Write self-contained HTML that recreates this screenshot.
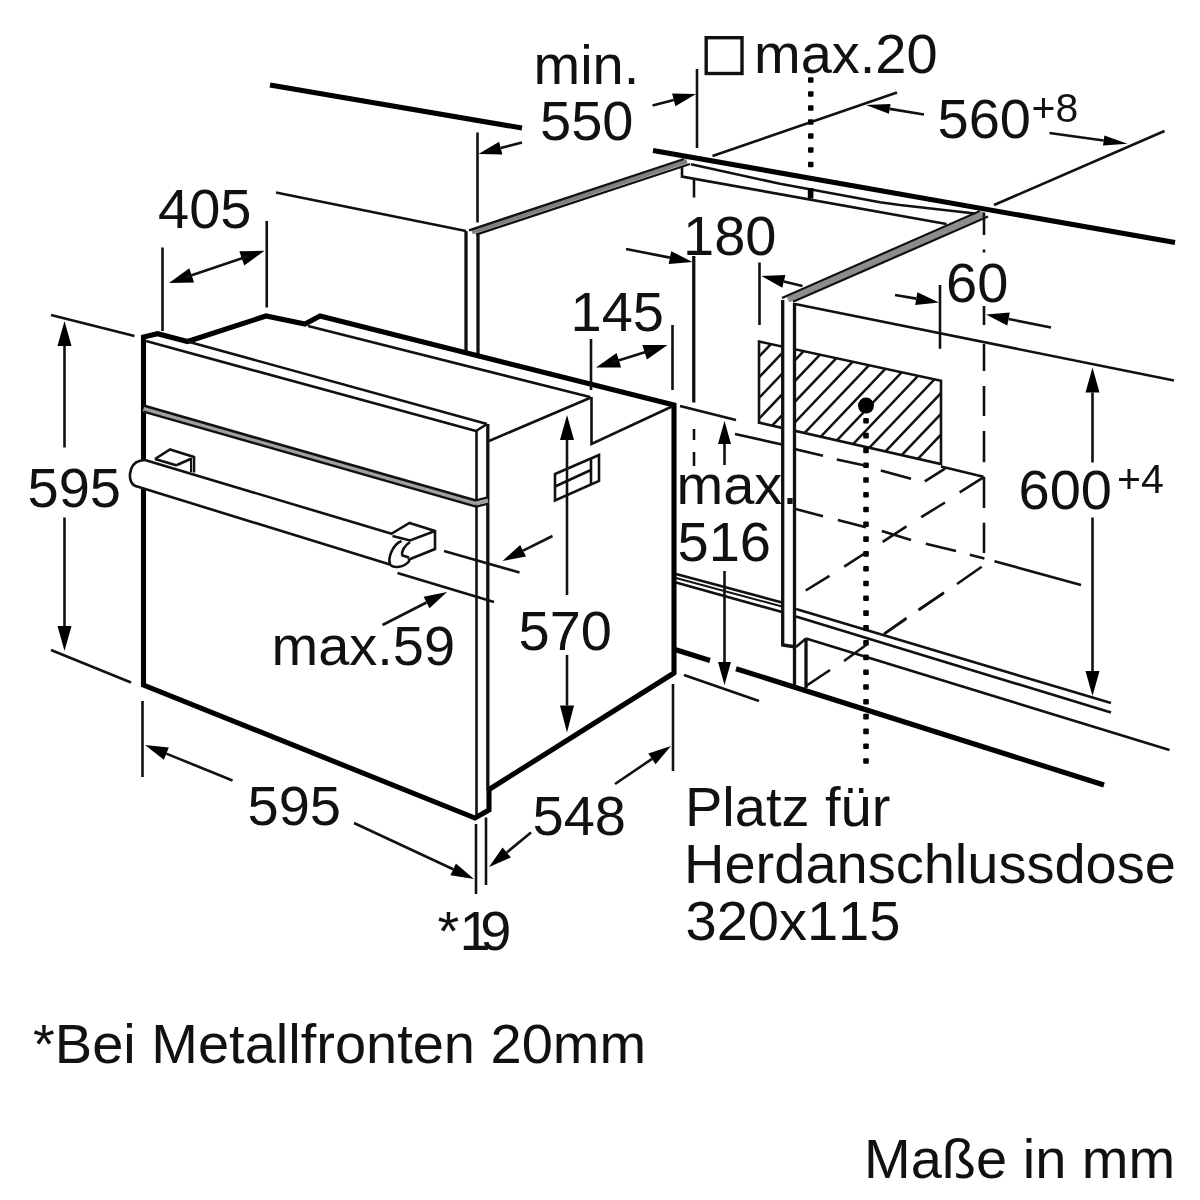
<!DOCTYPE html>
<html><head><meta charset="utf-8">
<style>
html,body{margin:0;padding:0;background:#fff;}
body{width:1200px;height:1200px;overflow:hidden;font-family:"Liberation Sans",sans-serif;}
svg{display:block;filter:blur(0.55px);}
text{font-family:"Liberation Sans",sans-serif;font-size:56px;fill:#111;font-kerning:none;font-variant-ligatures:none;}
.s{font-size:41px;}
.k{stroke:#000;stroke-width:5.1;fill:none;stroke-linecap:butt;stroke-linejoin:miter;}
.m{stroke:#111;stroke-width:3.3;fill:none;}
.t{stroke:#111;stroke-width:2.6;fill:none;}
.h{stroke:#111;stroke-width:2;fill:none;}
.a{fill:#000;stroke:none;}
</style></head><body>
<svg width="1200" height="1200" viewBox="0 0 1200 1200">
<rect width="1200" height="1200" fill="#fff"/>
<defs>
<clipPath id="hc"><polygon points="759,341.5 941,380.7 941,464 759,422.6"/></clipPath>
</defs>

<!-- ===== HATCH ===== -->
<g id="hatch">
<g clip-path="url(#hc)" class="t" style="stroke-width:2.5">
<line x1="511.0" y1="492.9" x2="831.0" y2="156.9"/>
<line x1="527.5" y1="496.3" x2="847.5" y2="160.3"/>
<line x1="544.0" y1="499.6" x2="864.0" y2="163.6"/>
<line x1="560.5" y1="503.0" x2="880.5" y2="167.0"/>
<line x1="577.0" y1="506.4" x2="897.0" y2="170.4"/>
<line x1="593.5" y1="509.7" x2="913.5" y2="173.7"/>
<line x1="610.0" y1="513.1" x2="930.0" y2="177.1"/>
<line x1="626.5" y1="516.5" x2="946.5" y2="180.5"/>
<line x1="643.0" y1="519.8" x2="963.0" y2="183.8"/>
<line x1="659.5" y1="523.2" x2="979.5" y2="187.2"/>
<line x1="676.0" y1="526.6" x2="996.0" y2="190.6"/>
<line x1="692.5" y1="529.9" x2="1012.5" y2="193.9"/>
<line x1="709.0" y1="533.3" x2="1029.0" y2="197.3"/>
<line x1="725.5" y1="536.7" x2="1045.5" y2="200.7"/>
<line x1="742.0" y1="540.0" x2="1062.0" y2="204.0"/>
<line x1="758.5" y1="543.4" x2="1078.5" y2="207.4"/>
<line x1="775.0" y1="546.8" x2="1095.0" y2="210.8"/>
<line x1="791.5" y1="550.1" x2="1111.5" y2="214.1"/>
<line x1="808.0" y1="553.5" x2="1128.0" y2="217.5"/>
<line x1="824.5" y1="556.9" x2="1144.5" y2="220.9"/>
</g>
<polygon points="759,341.5 941,380.7 941,464 759,422.6" class="t" style="stroke-width:2.6"/>
</g>

<!-- ===== CARCASS / WORKTOP ===== -->
<g id="carcass">

<!-- thick top-left wall line -->
<line class="k" x1="270" y1="85" x2="522" y2="128"/>
<!-- thin line to left post top -->
<line class="t" x1="276" y1="192.5" x2="466" y2="231"/>
<!-- left post -->
<line class="m" x1="466" y1="231" x2="466" y2="352"/>
<line class="m" x1="478" y1="234" x2="478" y2="355"/>
<!-- left panel top triple line -->
<line stroke="#808080" stroke-width="4.5" x1="472" y1="232.2" x2="687" y2="161.2"/>
<line class="h" style="stroke-width:2.3" x1="469" y1="230.3" x2="684" y2="159"/>
<line class="h" style="stroke-width:2.3" x1="476" y1="234.6" x2="690" y2="164"/>
<!-- worktop front edge thick -->
<line class="k" x1="653" y1="150.5" x2="1175" y2="242.6"/>
<!-- strip under worktop -->
<path class="t" d="M691,164.3 L780,183.8 L880,202.2 L900,205 L975,213.5"/>
<path class="t" d="M682,166 L682,176.6 L946.5,224"/>
<rect x="807.8" y="188" width="5.6" height="10.5" fill="#000"/>
<!-- right panel top triple line -->
<line stroke="#8c8c8c" stroke-width="6" x1="788" y1="299.8" x2="984" y2="213.8"/>
<line class="h" style="stroke-width:2.3" x1="782" y1="298" x2="980" y2="211"/>
<line class="h" style="stroke-width:2.3" x1="793" y1="301.8" x2="988" y2="216.5"/>
<!-- right post (white fill to hide hatch) -->
<path d="M783,300 L783,645 L796,647 L796,304 Z" fill="#fff" stroke="none"/>
<path class="m" d="M782.7,300 L782.7,645 L796,647"/>
<path class="m" d="M794.5,303 L794.5,687"/>
<path class="t" d="M796,647 L806,638.5"/>
<line class="m" x1="806" y1="638.5" x2="806" y2="688"/>
<!-- carcass inner top edge -->
<line class="t" x1="795" y1="304" x2="1174" y2="380.5"/>
<!-- floor double lines left of post -->
<line class="t" x1="676" y1="574" x2="782" y2="602.5"/>
<line class="h" x1="676" y1="578" x2="782" y2="606.5"/>
<line class="t" x1="676" y1="582.5" x2="782" y2="612"/>
<!-- floor double lines right of post -->
<line class="t" x1="796" y1="609" x2="1111" y2="703"/>
<line class="t" x1="796" y1="616.5" x2="1111" y2="712.5"/>
<line class="t" x1="806" y1="638.5" x2="1169.5" y2="750"/>
<!-- floor thick front edge -->
<line class="k" x1="675" y1="649.5" x2="710" y2="660.5"/>
<line class="k" x1="736" y1="668.7" x2="1104" y2="785"/>

</g>

<!-- ===== OVEN ===== -->
<g id="oven">

<!-- white fill for oven silhouette to hide carcass left post etc -->
<path d="M143.5,338 L157.5,334 L187.5,341.5 L266,316 L305,324 L320,316 L674,405 L674,672 L489,789 L489,810 L475,818 L143.5,685 Z" fill="#fff" stroke="none"/>
<!-- thick silhouette -->
<path class="k" d="M143.5,461 L143.5,337 L157.5,333.7 L187.5,341.5 L266,316 L305,324 L320,316 L674,405 L674,673 L489,789.5 L489,810 L475,818 L143.5,685 L143.5,488"/>
<!-- body top thin line -->
<line class="t" x1="308" y1="326" x2="590" y2="397"/>
<!-- front panel top edges -->
<line class="t" x1="187.5" y1="341.5" x2="487" y2="424"/>
<line class="t" x1="146" y1="341" x2="476" y2="431"/>
<!-- panel right end -->
<path class="t" d="M487,424 L476,431"/>
<line class="t" x1="476.5" y1="431" x2="476.5" y2="815"/>
<line class="m" x1="487.8" y1="424" x2="487.8" y2="790"/>
<!-- side top edge -->
<line class="t" x1="489" y1="441" x2="591" y2="397.5"/>
<!-- notch -->
<path class="t" d="M591.5,397 L591.5,444 L672,406.5"/>
<!-- panel separator -->
<line stroke="#a0a0a0" stroke-width="6" x1="143.5" y1="408.6" x2="476" y2="503.6"/>
<line class="t" style="stroke-width:2.6" x1="143.5" y1="405.6" x2="476" y2="500.6"/>
<line class="t" style="stroke-width:2.4" x1="143.5" y1="411.6" x2="476" y2="506.6"/>
<path class="t" d="M476,500.6 L488,497.5 M476,506.6 L488,503.5"/><path stroke="#a0a0a0" stroke-width="4" fill="none" d="M476,503.6 L488,500.5"/>
<!-- socket on side -->
<path class="t" d="M555,474 L599,455 L599,481 L555,500.5 Z"/>
<path class="t" d="M555,486.5 L592,469.5 M591,458.5 L591,484"/>
<!-- handle -->
<path d="M140,461 C128,463 127,484 135,486 L390,565 L392.5,534 L154,462.5 Z" fill="#fff" stroke="none"/>
<path class="t" d="M145,460 L140,460.8 C128,464 127,483 135.5,486 L390,564.5"/>
<path class="t" d="M145,460 L392.5,534"/>
<!-- left mount -->
<path class="t" d="M155,459 L170,449.5 L194,457 L194,472.5"/>
<path class="t" d="M177,465 L191,458.8"/><path class="h" d="M191,458 L191,472"/>
<path class="t" d="M155,459 L177,465.5"/>
<!-- right mount -->
<path class="t" d="M391,534 L409.5,523 L435,531 L435,549 L409,559.5"/>
<path class="t" d="M392.5,536 L410,540.5 L435,531"/>
<!-- handle right end cap -->
<path class="t" d="M401.5,541 C392,545 388,558 390,564.5 C394,569 404,567 409,561.5 L409,558.5"/>
<path class="t" d="M410,542 C404,546 401,552 402.5,555.5 L409,557.5"/>

</g>

<!-- ===== DIMENSIONS ===== -->
<g id="dims">
<line class="t" x1="477.5" y1="132.5" x2="477.5" y2="222.5"/>
<line class="t" x1="697" y1="69" x2="697" y2="148"/>
<polygon class="a" points="478.5,154.0 502.4,154.4 499.1,141.8"/><line class="t" x1="500.7" y1="148.1" x2="522.0" y2="142.5"/>
<polygon class="a" points="696.0,94.0 672.1,93.6 675.4,106.2"/><line class="t" x1="673.8" y1="99.9" x2="652.5" y2="105.5"/>
<rect x="706.2" y="37.7" width="35.8" height="35.8" class="m" style="stroke-width:3.4"/>
<line class="t" x1="712.5" y1="156" x2="897" y2="92.5"/>
<line class="t" x1="994" y1="205" x2="1164.5" y2="131"/>
<polygon class="a" points="866.0,105.0 888.9,113.8 890.5,103.9"/><line class="t" x1="889.7" y1="108.9" x2="924.0" y2="114.5"/>
<polygon class="a" points="1127.5,143.8 1104.4,135.5 1103.0,145.4"/><line class="t" x1="1103.7" y1="140.5" x2="1049.5" y2="133.0"/>
<line class="t" x1="162.5" y1="247.5" x2="162.5" y2="331"/>
<line class="t" x1="266.75" y1="221" x2="266.75" y2="307.5"/>
<polygon class="a" points="169.0,283.0 194.1,282.4 189.3,268.2"/>
<polygon class="a" points="264.5,250.8 239.4,251.3 244.2,265.5"/>
<line class="t" x1="185" y1="277.6" x2="248" y2="256.3"/>
<line class="m" x1="693.75" y1="256" x2="693.75" y2="402.5"/>
<line class="t" x1="759.5" y1="262.5" x2="759.5" y2="325"/>
<polygon class="a" points="692.5,262.0 671.2,251.2 668.7,264.0"/><line class="t" x1="669.9" y1="257.6" x2="626.0" y2="249.0"/>
<polygon class="a" points="761.5,276.0 782.3,287.8 785.4,275.1"/><line class="t" x1="783.8" y1="281.4" x2="802.5" y2="286.0"/>
<line class="t" x1="591" y1="339" x2="591" y2="390"/>
<line class="t" x1="672.5" y1="325" x2="672.5" y2="390"/>
<polygon class="a" points="596.0,367.5 621.1,367.4 616.6,353.1"/>
<polygon class="a" points="667.5,345.0 642.4,345.1 646.9,359.4"/>
<line class="t" x1="612" y1="362.5" x2="652" y2="350"/>
<line class="t" x1="940" y1="285" x2="940" y2="348.75"/>
<polygon class="a" points="939.0,302.5 917.4,292.2 915.2,305.0"/><line class="t" x1="916.3" y1="298.6" x2="895.0" y2="295.0"/>
<polygon class="a" points="986.0,314.5 1007.3,325.4 1009.8,312.6"/><line class="t" x1="1008.6" y1="319.0" x2="1051.0" y2="327.5"/>
<line class="t" x1="51" y1="315" x2="134.5" y2="336"/>
<line class="t" x1="51" y1="650" x2="131" y2="682.5"/>
<polygon class="a" points="64.5,321.0 57.5,346.0 71.5,346.0"/><line class="t" x1="64.5" y1="346.0" x2="64.5" y2="447.5"/>
<polygon class="a" points="64.5,651.0 71.5,626.0 57.5,626.0"/><line class="t" x1="64.5" y1="626.0" x2="64.5" y2="517.5"/>
<line class="t" x1="680" y1="406" x2="736" y2="420"/>
<line class="t" x1="735" y1="434" x2="782" y2="444.5"/>
<line class="t" x1="684" y1="675" x2="759" y2="701"/>
<polygon class="a" points="724.5,421.0 718.0,444.0 731.0,444.0"/><line class="t" x1="724.5" y1="444.0" x2="724.5" y2="465.0"/>
<polygon class="a" points="724.5,685.0 731.0,662.0 718.0,662.0"/><line class="t" x1="724.5" y1="662.0" x2="724.5" y2="571.0"/>
<polygon class="a" points="1092.5,367.5 1085.5,392.5 1099.5,392.5"/><line class="t" x1="1092.5" y1="392.5" x2="1092.5" y2="462.5"/>
<polygon class="a" points="1092.5,696.0 1099.5,671.0 1085.5,671.0"/><line class="t" x1="1092.5" y1="671.0" x2="1092.5" y2="517.5"/>
<polygon class="a" points="567.0,415.0 560.0,440.0 574.0,440.0"/><line class="t" x1="567.0" y1="440.0" x2="567.0" y2="595.0"/>
<polygon class="a" points="567.0,732.5 574.0,705.5 560.0,705.5"/><line class="t" x1="567.0" y1="705.5" x2="567.0" y2="655.0"/>
<line class="t" x1="444" y1="551" x2="519.5" y2="572.5"/>
<line class="t" x1="397.5" y1="573" x2="494" y2="602"/>
<polygon class="a" points="502.5,561.0 526.0,556.5 520.2,544.9"/><line class="t" x1="523.1" y1="550.7" x2="552.5" y2="536.0"/>
<polygon class="a" points="447.0,592.0 423.6,596.7 429.5,608.3"/><line class="t" x1="426.5" y1="602.5" x2="382.5" y2="625.0"/>
<line class="t" x1="142.5" y1="701" x2="142.5" y2="777"/>
<line class="t" x1="476" y1="824" x2="476" y2="894"/>
<polygon class="a" points="145.0,745.0 163.9,759.7 168.8,747.6"/><line class="t" x1="166.3" y1="753.6" x2="232.5" y2="780.5"/>
<polygon class="a" points="474.0,879.0 455.9,863.4 450.4,875.2"/><line class="t" x1="453.2" y1="869.3" x2="354.0" y2="823.0"/>
<line class="t" x1="486" y1="817.5" x2="486" y2="885"/>
<line class="t" x1="673" y1="684" x2="673" y2="771"/>
<polygon class="a" points="489.0,867.0 510.9,857.4 502.6,847.4"/><line class="t" x1="506.8" y1="852.4" x2="531.0" y2="832.5"/>
<polygon class="a" points="671.0,746.0 648.3,753.5 655.6,764.3"/><line class="t" x1="652.0" y1="758.9" x2="615.0" y2="784.0"/>
<rect class="a" x="808.0" y="77.2" width="5.5" height="5.5" rx="1"/>
<rect class="a" x="808.0" y="91.2" width="5.5" height="5.5" rx="1"/>
<rect class="a" x="808.0" y="105.2" width="5.5" height="5.5" rx="1"/>
<rect class="a" x="808.0" y="119.2" width="5.5" height="5.5" rx="1"/>
<rect class="a" x="808.0" y="133.2" width="5.5" height="5.5" rx="1"/>
<rect class="a" x="808.0" y="147.2" width="5.5" height="5.5" rx="1"/>
<rect class="a" x="808.0" y="161.8" width="5.5" height="5.5" rx="1"/>
<rect class="a" x="863.2" y="418.0" width="5.6" height="5.6" rx="1"/>
<rect class="a" x="863.2" y="432.8" width="5.6" height="5.6" rx="1"/>
<rect class="a" x="863.2" y="447.6" width="5.6" height="5.6" rx="1"/>
<rect class="a" x="863.2" y="462.4" width="5.6" height="5.6" rx="1"/>
<rect class="a" x="863.2" y="477.2" width="5.6" height="5.6" rx="1"/>
<rect class="a" x="863.2" y="491.9" width="5.6" height="5.6" rx="1"/>
<rect class="a" x="863.2" y="506.7" width="5.6" height="5.6" rx="1"/>
<rect class="a" x="863.2" y="521.5" width="5.6" height="5.6" rx="1"/>
<rect class="a" x="863.2" y="536.3" width="5.6" height="5.6" rx="1"/>
<rect class="a" x="863.2" y="551.1" width="5.6" height="5.6" rx="1"/>
<rect class="a" x="863.2" y="565.9" width="5.6" height="5.6" rx="1"/>
<rect class="a" x="863.2" y="580.7" width="5.6" height="5.6" rx="1"/>
<rect class="a" x="863.2" y="595.5" width="5.6" height="5.6" rx="1"/>
<rect class="a" x="863.2" y="610.3" width="5.6" height="5.6" rx="1"/>
<rect class="a" x="863.2" y="625.1" width="5.6" height="5.6" rx="1"/>
<rect class="a" x="863.2" y="639.9" width="5.6" height="5.6" rx="1"/>
<rect class="a" x="863.2" y="654.6" width="5.6" height="5.6" rx="1"/>
<rect class="a" x="863.2" y="669.4" width="5.6" height="5.6" rx="1"/>
<rect class="a" x="863.2" y="684.2" width="5.6" height="5.6" rx="1"/>
<rect class="a" x="863.2" y="699.0" width="5.6" height="5.6" rx="1"/>
<rect class="a" x="863.2" y="713.8" width="5.6" height="5.6" rx="1"/>
<rect class="a" x="863.2" y="728.6" width="5.6" height="5.6" rx="1"/>
<rect class="a" x="863.2" y="743.4" width="5.6" height="5.6" rx="1"/>
<rect class="a" x="863.2" y="758.2" width="5.6" height="5.6" rx="1"/>
<circle class="a" cx="866" cy="405.6" r="8"/>
<line class="t" x1="694" y1="179" x2="694" y2="197.5"/>
<line class="t" x1="694" y1="429" x2="694" y2="440"/>
<line class="t" x1="694" y1="452" x2="694" y2="466"/>
<line class="t" x1="984" y1="212.5" x2="984" y2="235"/>
<line class="t" x1="984" y1="249.5" x2="984" y2="252.5"/>
<line class="t" x1="984" y1="306" x2="984" y2="325"/>
<line class="t" x1="984" y1="344" x2="984" y2="371"/>
<line class="t" x1="984" y1="386" x2="984" y2="416"/>
<line class="t" x1="984" y1="431" x2="984" y2="462.2"/>
<line class="t" x1="984" y1="476.8" x2="984" y2="508"/>
<line class="t" x1="984" y1="522.7" x2="984" y2="553"/>
<line class="t" x1="941" y1="466.5" x2="983.5" y2="476.8"/>
<line class="t" x1="795.6" y1="449.3" x2="823" y2="455.8"/>
<line class="t" x1="836.8" y1="459.4" x2="866" y2="465.8"/>
<line class="t" x1="880.8" y1="470.4" x2="911" y2="478.7"/>
<line class="t" x1="795.6" y1="509" x2="823" y2="516.3"/>
<line class="t" x1="837.8" y1="520" x2="866" y2="527.3"/>
<line class="t" x1="881.8" y1="531" x2="911" y2="540"/>
<line class="t" x1="925.8" y1="543.8" x2="956" y2="551"/>
<line class="t" x1="969.8" y1="554.8" x2="984.4" y2="558.4"/>
<line class="t" x1="994.5" y1="561.2" x2="1081" y2="585"/>
<line class="t" x1="982.6" y1="477.8" x2="959.7" y2="492.4"/>
<line class="t" x1="945" y1="502.5" x2="921.2" y2="517.2"/>
<line class="t" x1="906.5" y1="526.3" x2="882.7" y2="541.9"/>
<line class="t" x1="945" y1="468.6" x2="924.8" y2="481.4"/>
<line class="t" x1="981.7" y1="566.7" x2="957" y2="584"/>
<line class="t" x1="943.2" y1="593.3" x2="918.4" y2="609.8"/>
<line class="t" x1="906.5" y1="618" x2="884.5" y2="633.6"/>
<line class="t" x1="865.3" y1="553" x2="844.2" y2="566.7"/>
<line class="t" x1="829.5" y1="575.8" x2="805.7" y2="590.5"/>
<line class="t" x1="806" y1="686" x2="830" y2="670"/>
<line class="t" x1="844" y1="661" x2="867.5" y2="644"/>
<line class="t" x1="884" y1="634" x2="906" y2="619"/>
<line class="t" x1="919" y1="610" x2="944" y2="592.5"/>

</g>

<!-- ===== TEXT ===== -->
<g id="texts">
<text transform="translate(533.5,84)">min.</text>
<text transform="translate(540,140)">550</text>
<text transform="translate(754,72.5)">max.20</text>
<text transform="translate(937.5,137.5)">560</text><text class="s" transform="translate(1031.5,122)">+8</text>
<text transform="translate(158,227.5)">405</text>
<text transform="translate(683,254.5)">180</text>
<text transform="translate(570.5,331)">145</text>
<text transform="translate(946,302)">60</text>
<text transform="translate(27.5,507)">595</text>
<text transform="translate(676.5,504)">max.</text>
<text transform="translate(677.5,560.5)">516</text>
<text transform="translate(1018.5,509)">600</text><text class="s" transform="translate(1117,492.5)">+4</text>
<text transform="translate(518.5,650)">570</text>
<text transform="translate(271.5,665)">max.59</text>
<text transform="translate(247.5,825)">595</text>
<text transform="translate(532.5,835)">548</text>
<text transform="translate(437.5,950)">*</text><text transform="translate(459.5,950)" letter-spacing="-10.5">19</text>
<text transform="translate(685,826)">Platz für</text>
<text transform="translate(684,882.5)">Herdanschlussdose</text>
<text transform="translate(685.5,940)">320x115</text>
<text transform="translate(33,1063)">*Bei Metallfronten 20mm</text>
<text transform="translate(864,1178)">Maße in mm</text>

</g>
</svg>
</body></html>
